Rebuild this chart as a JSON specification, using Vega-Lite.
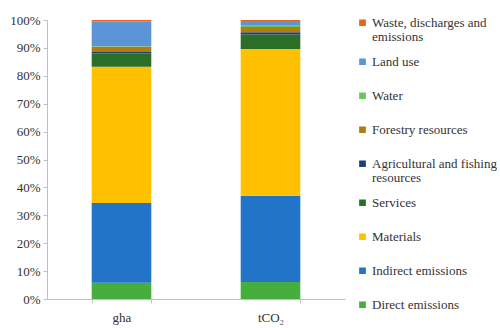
{
  "$schema": "https://vega.github.io/schema/vega-lite/v6.json",
  "width": 298,
  "height": 279,
  "autosize": {"type": "none"},
  "padding": {"left": 47, "top": 20, "right": 155, "bottom": 29},
  "background": "white",
  "config": {
    "font": "Liberation Serif",
    "view": {"stroke": null},
    "axis": {"labelFont": "Liberation Serif", "labelFontSize": 13, "labelColor": "#333333", "domainColor": "#bfbfbf", "tickColor": "#bfbfbf", "grid": false, "title": null}
  },
  "data": {
    "values": [
      {"unit": "gha", "category": "Direct emissions", "k": 1, "value": 5.8},
      {"unit": "gha", "category": "Indirect emissions", "k": 2, "value": 28.6},
      {"unit": "gha", "category": "Materials", "k": 3, "value": 48.8},
      {"unit": "gha", "category": "Services", "k": 4, "value": 4.8},
      {"unit": "gha", "category": "Agricultural and fishing resources", "k": 5, "value": 0.5},
      {"unit": "gha", "category": "Forestry resources", "k": 6, "value": 1.9},
      {"unit": "gha", "category": "Water", "k": 7, "value": 0.2},
      {"unit": "gha", "category": "Land use", "k": 8, "value": 8.9},
      {"unit": "gha", "category": "Waste, discharges and emissions", "k": 9, "value": 0.5},
      {"unit": "tCO₂", "category": "Direct emissions", "k": 1, "value": 6.1},
      {"unit": "tCO₂", "category": "Indirect emissions", "k": 2, "value": 30.9},
      {"unit": "tCO₂", "category": "Materials", "k": 3, "value": 52.6},
      {"unit": "tCO₂", "category": "Services", "k": 4, "value": 5.2},
      {"unit": "tCO₂", "category": "Agricultural and fishing resources", "k": 5, "value": 0.8},
      {"unit": "tCO₂", "category": "Forestry resources", "k": 6, "value": 1.9},
      {"unit": "tCO₂", "category": "Water", "k": 7, "value": 0.4},
      {"unit": "tCO₂", "category": "Land use", "k": 8, "value": 1.7},
      {"unit": "tCO₂", "category": "Waste, discharges and emissions", "k": 9, "value": 0.4}
    ]
  },
  "mark": {"type": "bar"},
  "encoding": {
    "x": {
      "field": "unit", "type": "nominal", "sort": null,
      "scale": {"paddingInner": 0.6, "paddingOuter": 0.3},
      "axis": {"labelAngle": 0, "tickBand": "extent", "tickSize": 4, "labelPadding": 8, "domainWidth": 1}
    },
    "y": {
      "field": "value", "type": "quantitative", "stack": "normalize",
      "axis": {"format": ".0%", "values": [0, 0.1, 0.2, 0.3, 0.4, 0.5, 0.6, 0.7, 0.8, 0.9, 1], "tickSize": 4, "labelPadding": 3}
    },
    "order": {"field": "k", "type": "quantitative", "sort": "ascending"},
    "color": {
      "field": "category", "type": "nominal",
      "scale": {
        "domain": ["Waste, discharges and emissions", "Land use", "Water", "Forestry resources", "Agricultural and fishing resources", "Services", "Materials", "Indirect emissions", "Direct emissions"],
        "range": ["#E8641B", "#5B95D7", "#6CC45E", "#B07C0A", "#1F3F73", "#2A6E27", "#FFC000", "#2174C8", "#45AE3C"]
      },
      "legend": {
        "title": null, "orient": "none", "legendX": 309, "legendY": -14,
        "symbolType": "square", "symbolSize": 45, "symbolStrokeWidth": 0,
        "labelFont": "Liberation Serif", "labelFontSize": 13, "labelColor": "#333333",
        "labelOffset": 3, "labelLimit": 200, "clipHeight": 33.5, "rowPadding": -0.5,
        "labelBaseline": "alphabetic",
        "labelExpr": "datum.label == 'Waste, discharges and emissions' ? ['Waste, discharges and', 'emissions'] : datum.label == 'Agricultural and fishing resources' ? ['Agricultural and fishing', 'resources'] : datum.label",
        "encode": {"labels": {"update": {"dy": {"value": 4}, "lineHeight": {"value": 14.5}}}}
      }
    }
  }
}
